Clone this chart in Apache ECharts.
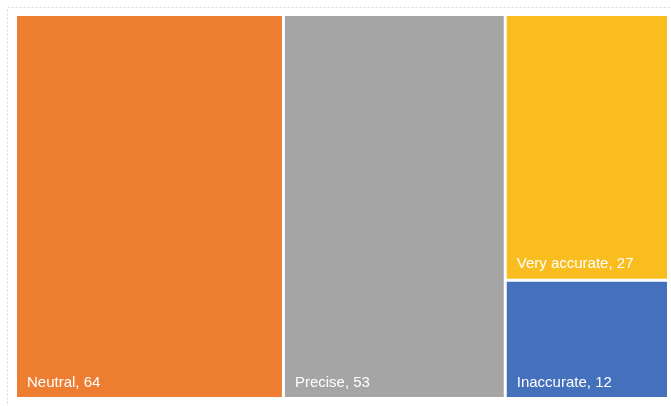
<!DOCTYPE html>
<html>
<head>
<meta charset="utf-8">
<script src="https://cdn.jsdelivr.net/npm/echarts@6/dist/echarts.min.js"></script>
<style>
html,body{margin:0;padding:0;background:#fff;}
#chart{width:671px;height:406px;}
</style>
</head>
<body>
<div id="chart"></div>
<script>
const categories = ['Neutral', 'Precise', 'Very accurate', 'Inaccurate'];
const values = [64, 53, 27, 12];
const colors = ['#ED7D31', '#A5A5A5', '#F9BD1F', '#4570BC'];

const chart = echarts.init(document.getElementById('chart'), null, {renderer: 'canvas'});
const data = categories.map((c, i) => ({
  name: c,
  value: values[i],
  itemStyle: {color: colors[i]}
}));

chart.setOption({
  backgroundColor: '#ffffff',
  animation: false,
  graphic: [{
    type: 'rect',
    left: 5, top: 5,
    shape: {x: 0, y: 0, width: 700, height: 440},
    style: {fill: 'none', stroke: '#d9d9d9', lineWidth: 1, lineDash: [2, 2]},
    z: -10
  }],
  series: [{
    type: 'treemap',
    left: 17, top: 16, width: 650, height: 381,
    roam: false,
    nodeClick: false,
    squareRatio: 1,
    breadcrumb: {show: false},
    sort: 'desc',
    itemStyle: {borderWidth: 0, gapWidth: 3, borderColor: '#ffffff'},
    levels: [{itemStyle: {borderWidth: 0, gapWidth: 3, borderColor: '#ffffff'}}],
    label: {
      show: true,
      position: 'insideBottomLeft',
      distance: 7,
      padding: [0, 0, 0, 3],
      color: '#ffffff',
      fontFamily: 'Liberation Sans',
      fontSize: 15,
      formatter: p => p.name + ', ' + p.value
    },
    data: data
  }]
});
</script>
</body>
</html>
